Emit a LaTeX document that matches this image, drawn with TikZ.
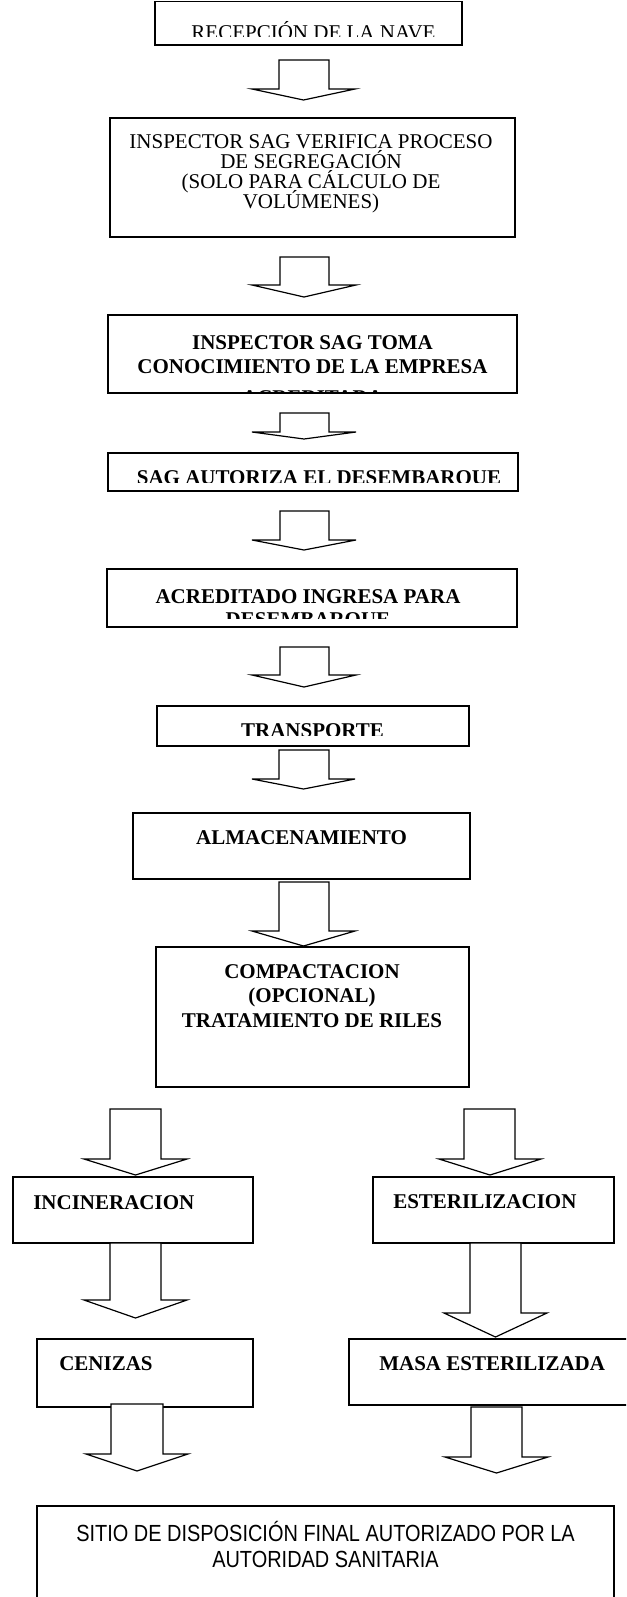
\documentclass[tikz,border=0pt]{standalone}
\usepackage{fontspec}
\setmainfont{Liberation Serif}
\newfontfamily\narrowsans[FakeStretch=0.855]{Liberation Sans}
\newcommand\flowbox[5]{\node[boxst, minimum width={(#4-#2)*0.75pt}, minimum height={(#5-#3)*0.75pt}] (#1) at (#2,#3) {};}
\newcommand\blockarrow[8]{%
  \coordinate (#1) at ({(#6+#7)/2},#8);
  \draw[arrowshape] (#2,#4) -- (#3,#4) -- (#3,#5) -- (#7,#5) -- (#1) -- (#6,#5) -- (#2,#5) -- cycle;}
\begin{document}
\begin{tikzpicture}[x=0.75pt,y=-0.75pt,
  boxst/.style={draw=black, line width=1pt, fill=white, rectangle, inner sep=0pt, outer sep=0pt, anchor=north west},
  arrowshape/.style={draw=black, line width=0.9pt, fill=white, line join=miter},
  txt/.style={inner sep=0pt, anchor=base, font=\fontsize{15.75pt}{18pt}\selectfont},
  btxt/.style={inner sep=0pt, anchor=base, font=\fontsize{15.75pt}{18pt}\selectfont\bfseries},
  ltxt/.style={btxt, anchor=base west},
  stxt/.style={inner sep=0pt, anchor=base, font=\narrowsans\fontsize{17.5pt}{20pt}\selectfont}
]
\useasboundingbox (0,0) rectangle (626,1597);
\clip (0,0) rectangle (626,1597);
\fill[white] (0,0) rectangle (626,1597);

% boxes
\flowbox{b1}{155}{1.5}{462}{45}
\flowbox{b2}{110}{118}{515}{237}
\flowbox{b3}{108}{315}{517}{393}
\flowbox{b4}{108}{453}{518}{491}
\flowbox{b5}{107}{569}{517}{627}
\flowbox{b6}{157}{706}{469}{746}
\flowbox{b7}{133}{813}{470}{879}
\flowbox{b8}{156}{947}{469}{1087}
\flowbox{b9}{13}{1177}{253}{1243}
\flowbox{b10}{373}{1177}{614}{1243}
\flowbox{b11}{37}{1339}{253}{1407}
\flowbox{b12}{349}{1339}{640}{1405}
\flowbox{b13}{37}{1506}{614}{1630}

% texts
\begin{scope}
  \clip (155,1.5) rectangle (462,36);
  \node[txt] (t1) at (313.5,39) {RECEPCIÓN DE LA NAVE};
\end{scope}
\node[txt] (t2a) at (311,148) {INSPECTOR SAG VERIFICA PROCESO};
\node[txt] (t2b) at (311,168) {DE SEGREGACIÓN};
\node[txt] (t2c) at (311,188) {(SOLO PARA CÁLCULO DE};
\node[txt] (t2d) at (311,208) {VOLÚMENES)};
\begin{scope}
  \clip (108,315) rectangle (517,391);
  \node[btxt] (t3a) at (312.5,349) {INSPECTOR SAG TOMA};
  \node[btxt] (t3b) at (312.5,373) {CONOCIMIENTO DE LA EMPRESA};
  \node[btxt] (t3c) at (312.5,404) {ACREDITADA};
\end{scope}
\begin{scope}
  \clip (108,453) rectangle (518,482);
  \node[btxt] (t4) at (319,484) {SAG AUTORIZA EL DESEMBARQUE};
\end{scope}
\begin{scope}
  \clip (107,569) rectangle (517,618);
  \node[btxt] (t5a) at (308,603) {ACREDITADO INGRESA PARA};
  \node[btxt] (t5b) at (308,626) {DESEMBARQUE};
\end{scope}
\begin{scope}
  \clip (157,706) rectangle (469,735);
  \node[btxt] (t6) at (312.5,737) {TRANSPORTE};
\end{scope}
\node[btxt] (t7) at (301.5,844) {ALMACENAMIENTO};
\node[btxt] (t8a) at (312,978) {COMPACTACION};
\node[btxt] (t8b) at (312,1002) {(OPCIONAL)};
\node[btxt] (t8c) at (312,1027) {TRATAMIENTO DE RILES};
\node[ltxt] (t9) at (33,1209) {INCINERACION};
\node[ltxt] (t10) at (393,1208) {ESTERILIZACION};
\node[ltxt] (t11) at (59,1370) {CENIZAS};
\node[ltxt] (t12) at (379,1370) {MASA ESTERILIZADA};
\node[stxt] (t13a) at (325.5,1541) {SITIO DE DISPOSICIÓN FINAL AUTORIZADO POR LA};
\node[stxt] (t13b) at (325.5,1567) {AUTORIDAD SANITARIA};

% block arrows: name, shaftL, shaftR, top, headY, wingL, wingR, tipY
\blockarrow{a1}{279}{329}{60}{89}{252}{355}{100}
\blockarrow{a2}{280}{329}{257}{285}{252}{356}{297}
\blockarrow{a3}{280}{329}{413}{432}{252}{356}{439}
\blockarrow{a4}{280}{329}{511}{540}{252}{356}{550}
\blockarrow{a5}{280}{329}{647}{675}{252}{356}{687}
\blockarrow{a6}{279}{329}{750}{779}{252}{355}{789}
\blockarrow{a7}{279}{329}{882}{931}{252}{355}{946}
\blockarrow{la}{110}{161}{1109}{1159}{84}{187}{1175}
\blockarrow{ra}{464}{515}{1109}{1159}{439}{541}{1175}
\blockarrow{lb}{110}{161}{1243}{1300}{84}{187}{1318}
\blockarrow{rb}{470}{521}{1243}{1313}{444}{547}{1337}
\blockarrow{lc}{111}{163}{1404}{1454}{86}{188}{1471}
\blockarrow{rc}{471}{522}{1407}{1457}{445}{548}{1473}
\end{tikzpicture}
\end{document}
